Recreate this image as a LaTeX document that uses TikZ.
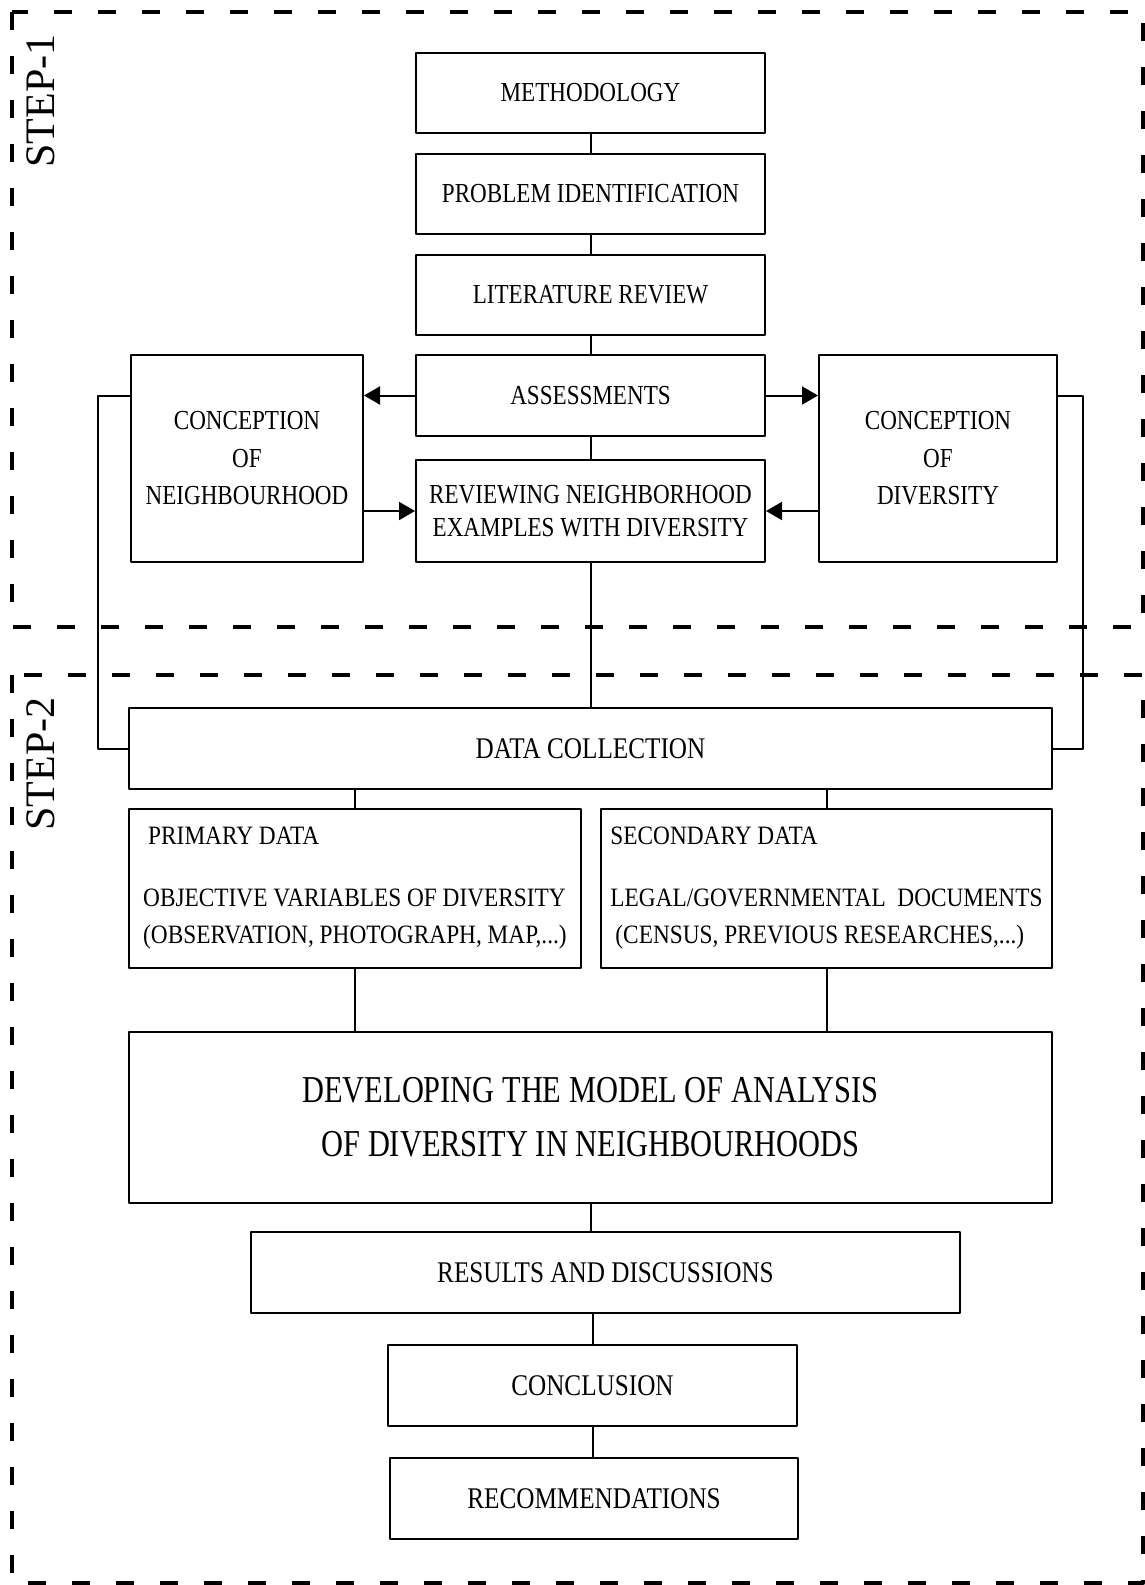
\documentclass[tikz,border=0pt]{standalone}
\usepackage{fontspec}
\setmainfont[FakeStretch=0.84]{Liberation Serif}
\newfontfamily\stepfont{Liberation Serif}
\newfontfamily\bigfont[FakeStretch=0.80]{Liberation Serif}
\newfontfamily\datafont[FakeStretch=0.88]{Liberation Serif}
\usetikzlibrary{arrows.meta}
\tikzset{
  box/.style={draw, line width=2pt, inner sep=0pt, align=center, font=\fontsize{27.5}{37.5}\selectfont},
  widebox/.style={box, font=\fontsize{30}{37.5}\selectfont},
  databox/.style={box, align=left, font=\datafont\fontsize{26.5}{37}\selectfont},
  link/.style={line width=2pt},
  arr/.style={line width=2pt, -{Triangle[length=16pt,width=18pt]}},
  stepframe/.style={line width=4.5pt, dash pattern=on 18pt off 26pt},
  steplabel/.style={rotate=90, inner sep=0pt, font=\stepfont\fontsize{42}{42}\selectfont}
}
\begin{document}
\begin{tikzpicture}[x=1pt, y=-1pt, line join=round]
  \def\colw{349} \def\colh{80} % main column
  \useasboundingbox (0,0) rectangle (1145,1585);
  % frames of the two steps
  \draw[stepframe] (12,12) rectangle (1143,627);
  \draw[stepframe] (12,675) rectangle (1143,1583);
  \node[steplabel] (step1) at (41,101) {STEP-1};
  \node[steplabel] (step2) at (41,764) {STEP-2};
  % step 1
  \node[box, minimum width=\colw, minimum height=\colh] (meth) at (590.5,93) {METHODOLOGY};
  \node[box, minimum width=\colw, minimum height=\colh] (prob) at (590.5,194) {PROBLEM IDENTIFICATION};
  \node[box, minimum width=\colw, minimum height=\colh] (lit) at (590.5,295) {LITERATURE REVIEW};
  \node[box, minimum width=\colw, minimum height=81] (assess) at (590.5,395.5) {ASSESSMENTS};
  \node[box, minimum width=\colw, minimum height=102, font=\fontsize{27.5}{32.5}\selectfont] (review) at (590.5,511)
    {REVIEWING NEIGHBORHOOD\\EXAMPLES WITH DIVERSITY};
  \node[box, minimum width=232, minimum height=207] (neigh) at (247,458.5) {CONCEPTION\\OF\\NEIGHBOURHOOD};
  \node[box, minimum width=238, minimum height=207] (div) at (938,458.5) {CONCEPTION\\OF\\DIVERSITY};
  % step 2
  \node[widebox, minimum width=923, minimum height=81] (data) at (590.5,748.5) {DATA COLLECTION};
  \node[databox, minimum width=452, minimum height=159] (prim) at (355,888.5)
    {\hspace*{5pt}PRIMARY DATA\\[25pt]OBJECTIVE VARIABLES OF DIVERSITY\\(OBSERVATION, PHOTOGRAPH, MAP,...)};
  \node[databox, minimum width=451, minimum height=159] (sec) at (826.5,888.5)
    {SECONDARY DATA\\[25pt]LEGAL/GOVERNMENTAL\ \ DOCUMENTS\\\hspace*{5pt}(CENSUS, PREVIOUS RESEARCHES,...)};
  \node[box, minimum width=923, minimum height=171, font=\bigfont\fontsize{38}{54}\selectfont] (devel) at (590.5,1117.5)
    {DEVELOPING THE MODEL OF ANALYSIS\\OF DIVERSITY IN NEIGHBOURHOODS};
  \node[widebox, minimum width=709, minimum height=81] (results) at (605.5,1272.5) {RESULTS AND DISCUSSIONS};
  \node[widebox, minimum width=409, minimum height=81] (concl) at (592.5,1385.5) {CONCLUSION};
  \node[widebox, minimum width=408, minimum height=81] (recom) at (594,1498.5) {RECOMMENDATIONS};
  % connectors
  \draw[link] (meth) -- (prob);
  \draw[link] (prob) -- (lit);
  \draw[link] (lit) -- (assess);
  \draw[link] (assess) -- (review);
  \draw[link] (review) -- (data);
  \draw[arr] (assess.west) -- (neigh.east |- assess.west);
  \draw[arr] (assess.east) -- (div.west |- assess.east);
  \draw[arr] (neigh.east |- review.west) -- (review.west);
  \draw[arr] (div.west |- review.east) -- (review.east);
  \draw[link] (neigh.west |- assess.west) -- ++(-32,0) |- (data.west);
  \draw[link] (div.east |- assess.east) -- ++(25,0) |- (data.east);
  \draw[link] (prim.north |- data.south) -- (prim.north);
  \draw[link] (sec.north |- data.south) -- (sec.north);
  \draw[link] (prim.south) -- (prim.south |- devel.north);
  \draw[link] (sec.south) -- (sec.south |- devel.north);
  \draw[link] (devel.south) -- (devel.south |- results.north);
  \draw[link] (concl.north |- results.south) -- (concl.north);
  \draw[link] (concl.south) -- (concl.south |- recom.north);
\end{tikzpicture}
\end{document}
